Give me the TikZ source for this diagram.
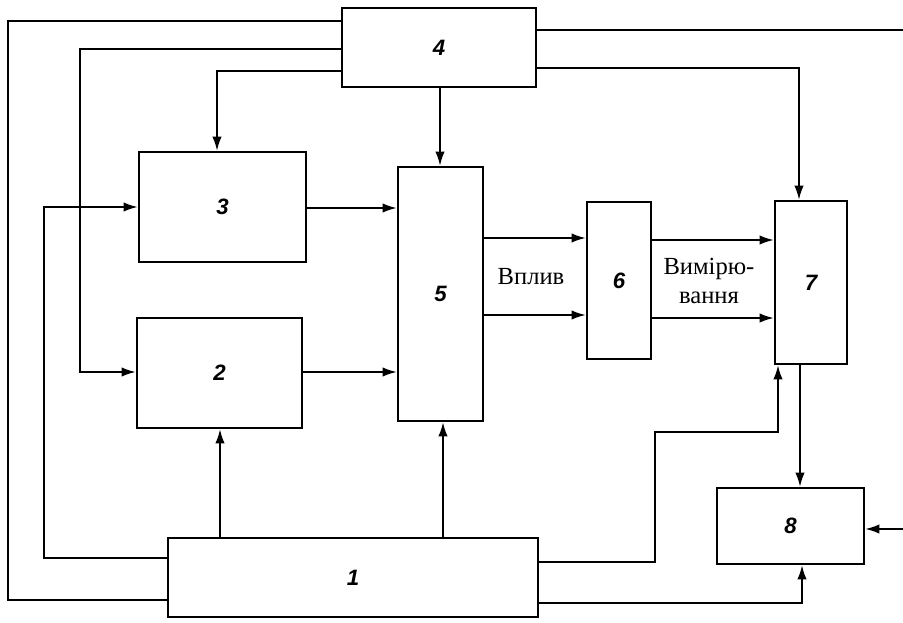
\documentclass[tikz,border=0pt]{standalone}
\usepackage{fontspec}
\setmainfont{Liberation Serif}
\newfontfamily\digitfont{Liberation Sans}
\usetikzlibrary{arrows.meta,positioning,calc}

\begin{document}
\begin{tikzpicture}[x=0.03cm,y=-0.03cm,
  blk/.style={rectangle,draw,line width=2.2pt,inner sep=0pt,
              font={\digitfont\bfseries\itshape\fontsize{19}{22}\selectfont}},
  lbl/.style={align=center,inner sep=0pt,font={\fontsize{21}{25}\selectfont}},
  ln/.style={line width=1.4pt},
  arr/.style={ln,-{Latex[length=4.2mm,width=2.8mm]}}]
\useasboundingbox (0,0) rectangle (903,623);
% blocks
\node[blk,minimum width=5.82cm,minimum height=2.37cm] (b4) at (439,47.5) {4};
\node[blk,minimum width=5.01cm,minimum height=3.30cm] (b3) at (222.5,207) {3};
\node[blk,minimum width=2.55cm,minimum height=7.62cm] (b5) at (440.5,294) {5};
\node[blk,minimum width=4.95cm,minimum height=3.30cm] (b2) at (219.5,373) {2};
\node[blk,minimum width=1.92cm,minimum height=4.71cm] (b6) at (619,280.5) {6};
\node[blk,minimum width=2.16cm,minimum height=4.89cm] (b7) at (811,282.5) {7};
\node[blk,minimum width=4.41cm,minimum height=2.28cm] (b8) at (790.5,526) {8};
\node[blk,minimum width=11.1cm,minimum height=2.37cm] (b1) at (353,577.5) {1};
\node[lbl] (vplyv) at (531,277) {Вплив};
\node[lbl] (vymir) at (709,281) {Вимірю-\\вання};
\coordinate (rimA) at (903,30);
\coordinate (rimB) at (903,529);
% connectors from 4
\draw[ln] (b4.west |- 0,21) -| (8,600) -- (b1.west |- 0,600);
\draw[arr] (b4.west |- 0,49) -| (80,372) -- (b2.west |- 0,372);
\draw[arr] (b4.west |- 0,71) -| (b3.north -| 217,0);
\draw[arr] (b4.south -| 440,0) -- (b5.north -| 440,0);
\draw[ln] (b4.east |- rimA) -- (rimA);
\draw[arr] (b4.east |- 0,68) -| (b7.north -| 799,0);
% connectors from 1
\draw[arr] (b1.west |- 0,558) -| (44,207) -- (b3.west |- 0,207);
\draw[arr] (b1.north -| 220,0) -- (b2.south -| 220,0);
\draw[arr] (b1.north -| 443,0) -- (b5.south -| 443,0);
\draw[arr] (b1.east |- 0,562) -| (655,432) -| (b7.south -| 778,0);
\draw[arr] (b1.east |- 0,603) -| (b8.south -| 802,0);
% main chain
\draw[arr] (b3.east |- 0,208) -- (b5.west |- 0,208);
\draw[arr] (b2.east |- 0,372) -- (b5.west |- 0,372);
\draw[arr] (b5.east |- 0,238) -- (b6.west |- 0,238);
\draw[arr] (b5.east |- 0,315) -- (b6.west |- 0,315);
\draw[arr] (b6.east |- 0,240) -- (b7.west |- 0,240);
\draw[arr] (b6.east |- 0,318) -- (b7.west |- 0,318);
\draw[arr] (b7.south -| 800,0) -- (b8.north -| 800,0);
\draw[arr] (rimB) -- (b8.east |- rimB);
\end{tikzpicture}
\end{document}
